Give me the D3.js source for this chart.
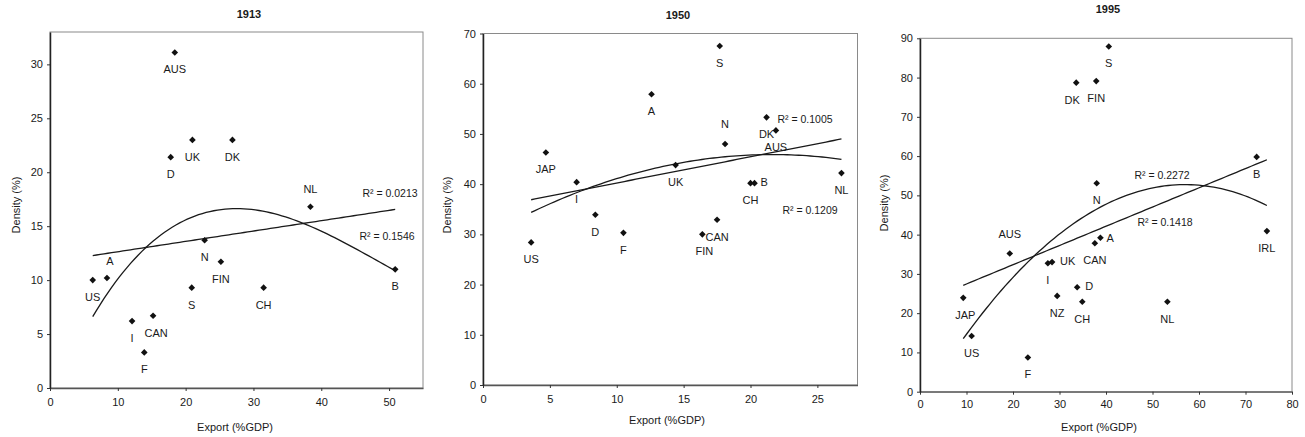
<!DOCTYPE html>
<html><head><meta charset="utf-8">
<script src="https://cdn.jsdelivr.net/npm/d3@7"></script>
<style>
body{margin:0;background:#fff}
text{font-family:"Liberation Sans",Arial,sans-serif;fill:#1a1a1a}
</style>
</head><body>
<svg id="c" width="1305" height="437"></svg>
<script>
// ---------- DATA ----------
const countries1913 = ["AUS","UK","D","DK","NL","N","FIN","S","CH","B","A","US","I","CAN","F"];
const export1913    = [18.4, 21.0, 17.8, 26.9, 38.4, 22.8, 25.2, 20.9, 31.5, 50.9, 8.4, 6.3, 12.1, 15.2, 13.9];
const density1913   = [31.1, 23.0, 21.4, 23.0, 16.8, 13.7, 11.7, 9.3, 9.3, 11.0, 10.2, 10.0, 6.2, 6.7, 3.3];
const xTicks1913 = [0,10,20,30,40,50];
const yTicks1913 = [0,5,10,15,20,25,30];
const r2Lin1913 = "R² = 0.0213";
const r2Poly1913 = "R² = 0.1546";

const countries1950 = ["S","A","JAP","I","D","F","US","UK","N","DK","AUS","CH","B","NL","CAN","FIN"];
const export1950    = [17.7, 12.6, 4.7, 7.0, 8.4, 10.5, 3.6, 14.4, 18.1, 21.2, 21.9, 20.0, 20.3, 26.8, 17.5, 16.4];
const density1950   = [67.5, 57.9, 46.3, 40.4, 33.9, 30.3, 28.4, 43.8, 48.0, 53.3, 50.7, 40.2, 40.2, 42.2, 32.9, 30.0];
const xTicks1950 = [0,5,10,15,20,25];
const yTicks1950 = [0,10,20,30,40,50,60,70];
const r2Lin1950 = "R² = 0.1005";
const r2Poly1950 = "R² = 0.1209";

const countries1995 = ["S","FIN","DK","B","N","IRL","A","CAN","AUS","I","UK","NZ","D","CH","NL","JAP","US","F"];
const export1995    = [40.6, 37.9, 33.6, 72.4, 38.0, 74.6, 38.8, 37.6, 19.3, 27.5, 28.4, 29.5, 33.8, 34.9, 53.2, 9.3, 11.1, 23.2];
const density1995   = [87.9, 79.1, 78.7, 59.8, 53.1, 40.9, 39.2, 37.8, 35.2, 32.7, 33.0, 24.4, 26.6, 22.9, 22.9, 23.9, 14.2, 8.7];
const xTicks1995 = [0,10,20,30,40,50,60,70,80];
const yTicks1995 = [0,10,20,30,40,50,60,70,80,90];
const r2Lin1995 = "R² = 0.1418";
const r2Poly1995 = "R² = 0.2272";

const xTitle = "Export (%GDP)";
const yTitle = "Density (%)";

// ---------- LAYOUT ----------
const panels = [
  {title:"1913", countries:countries1913, xs:export1913, ys:density1913, xTicks:xTicks1913, yTicks:yTicks1913,
   xDom:[0,55], yDom:[0,33], xR:[50,423], yR:[388,32], deg:3,
   titlePos:[249,18], xtPos:[235,431], ytPos:[17,205], tickDy:16,
   r2Lin:r2Lin1913, r2LinPos:[390,197], r2Poly:r2Poly1913, r2PolyPos:[387,240],
   place:{NL:[0,-17],A:[3,-16],CAN:[3,18]}},
  {title:"1950", countries:countries1950, xs:export1950, ys:density1950, xTicks:xTicks1950, yTicks:yTicks1950,
   xDom:[0,28], yDom:[0,70], xR:[483,857.5], yR:[385,33.5], deg:2,
   titlePos:[678,19], xtPos:[667,424], ytPos:[448,205], tickDy:16,
   r2Lin:r2Lin1950, r2LinPos:[805,123], r2Poly:r2Poly1950, r2PolyPos:[810,214],
   place:{N:[0,-19],B:[12,0],FIN:[2,18]}},
  {title:"1995", countries:countries1995, xs:export1995, ys:density1995, xTicks:xTicks1995, yTicks:yTicks1995,
   xDom:[0,80], yDom:[0,90], xR:[920,1292], yR:[391.7,38.3], deg:2,
   titlePos:[1108,13], xtPos:[1099,431], ytPos:[885,203], tickDy:15,
   r2Lin:r2Lin1995, r2LinPos:[1165,226], r2Poly:r2Poly1995, r2PolyPos:[1162,179],
   place:{AUS:[0,-18],UK:[14,0],A:[12,1],D:[14,0],DK:[-4,18],JAP:[2,18]}}
];

function polyfit(xs, ys, deg){
  const n = deg+1;
  const A = Array.from({length:n},()=>new Array(n+1).fill(0));
  for(let k=0;k<xs.length;k++){
    for(let i=0;i<n;i++){
      for(let j=0;j<n;j++) A[i][j]+=Math.pow(xs[k],i+j);
      A[i][n]+=ys[k]*Math.pow(xs[k],i);
    }
  }
  for(let i=0;i<n;i++){
    let p=i; for(let r=i+1;r<n;r++) if(Math.abs(A[r][i])>Math.abs(A[p][i])) p=r;
    [A[i],A[p]]=[A[p],A[i]];
    for(let r=0;r<n;r++){ if(r===i) continue; const f=A[r][i]/A[i][i]; for(let c=i;c<=n;c++) A[r][c]-=f*A[i][c]; }
  }
  return A.map((row,i)=>row[n]/row[i]);
}
const evalPoly=(c,x)=>c.reduce((s,ci,i)=>s+ci*Math.pow(x,i),0);

const svg = d3.select("#c");

panels.forEach(p=>{
  const x = d3.scaleLinear().domain(p.xDom).range(p.xR);
  const y = d3.scaleLinear().domain(p.yDom).range(p.yR);
  const g = svg.append("g");

  // border
  g.append("rect").attr("x",p.xR[0]).attr("y",p.yR[1]).attr("width",p.xR[1]-p.xR[0]).attr("height",p.yR[0]-p.yR[1])
    .attr("fill","none").attr("stroke","#8a8a8a").attr("stroke-width",1);

  // axes
  const xa = g.append("g").attr("transform",`translate(0,${p.yR[0]})`)
    .call(d3.axisBottom(x).tickValues(p.xTicks).tickSize(3).tickSizeOuter(0).tickPadding(p.tickDy-9));
  const ya = g.append("g").attr("transform",`translate(${p.xR[0]},0)`)
    .call(d3.axisLeft(y).tickValues(p.yTicks).tickSize(3).tickSizeOuter(0).tickPadding(4));
  [xa,ya].forEach(a=>{
    a.selectAll("text").attr("font-size",11).attr("font-family","Liberation Sans, Arial, sans-serif").attr("fill","#1a1a1a");
    a.selectAll("line").attr("stroke","#333");
  });
  xa.select(".domain").attr("stroke","#555").attr("stroke-width",1.3);
  ya.select(".domain").attr("stroke","#222").attr("stroke-width",1.5);

  // titles
  g.append("text").attr("x",p.titlePos[0]).attr("y",p.titlePos[1]).attr("text-anchor","middle")
    .attr("font-size",11).attr("font-weight","bold").text(p.title);
  g.append("text").attr("x",p.xtPos[0]).attr("y",p.xtPos[1]).attr("text-anchor","middle")
    .attr("font-size",11).text(xTitle);
  g.append("text").attr("transform",`translate(${p.ytPos[0]},${p.ytPos[1]}) rotate(-90)`)
    .attr("text-anchor","middle").attr("dominant-baseline","middle").attr("font-size",11).text(yTitle);

  // trend lines
  const xmin = d3.min(p.xs), xmax = d3.max(p.xs);
  const samples = d3.range(0,81).map(i=>xmin+(xmax-xmin)*i/80);
  const line = d3.line().x(d=>x(d[0])).y(d=>y(d[1]));
  [1,p.deg].forEach(deg=>{
    const c = polyfit(p.xs,p.ys,deg);
    g.append("path").attr("d",line(samples.map(v=>[v,evalPoly(c,v)])))
      .attr("fill","none").attr("stroke","#1a1a1a").attr("stroke-width",1.3);
  });

  // R2 labels
  g.append("text").attr("x",p.r2LinPos[0]).attr("y",p.r2LinPos[1]).attr("text-anchor","middle")
    .attr("font-size",10.5).text(p.r2Lin);
  g.append("text").attr("x",p.r2PolyPos[0]).attr("y",p.r2PolyPos[1]).attr("text-anchor","middle")
    .attr("font-size",10.5).text(p.r2Poly);

  // markers
  const sym = d3.symbol().type(d3.symbolSquare).size(22);
  p.countries.forEach((name,i)=>{
    const cx = x(p.xs[i]), cy = y(p.ys[i]);
    g.append("path").attr("d",sym()).attr("transform",`translate(${cx},${cy}) rotate(45)`).attr("fill","#111");
    const off = p.place[name] || [0,18];
    const t = g.append("text").attr("x",cx+off[0]).attr("y",cy+off[1]).attr("dominant-baseline","middle")
      .attr("font-size",11).text(name);
    t.attr("text-anchor", off[0]>=8 ? "start" : "middle");
    if(off[0]>=8) t.attr("x",cx+off[0]-6);
  });
});
</script>
</body></html>
